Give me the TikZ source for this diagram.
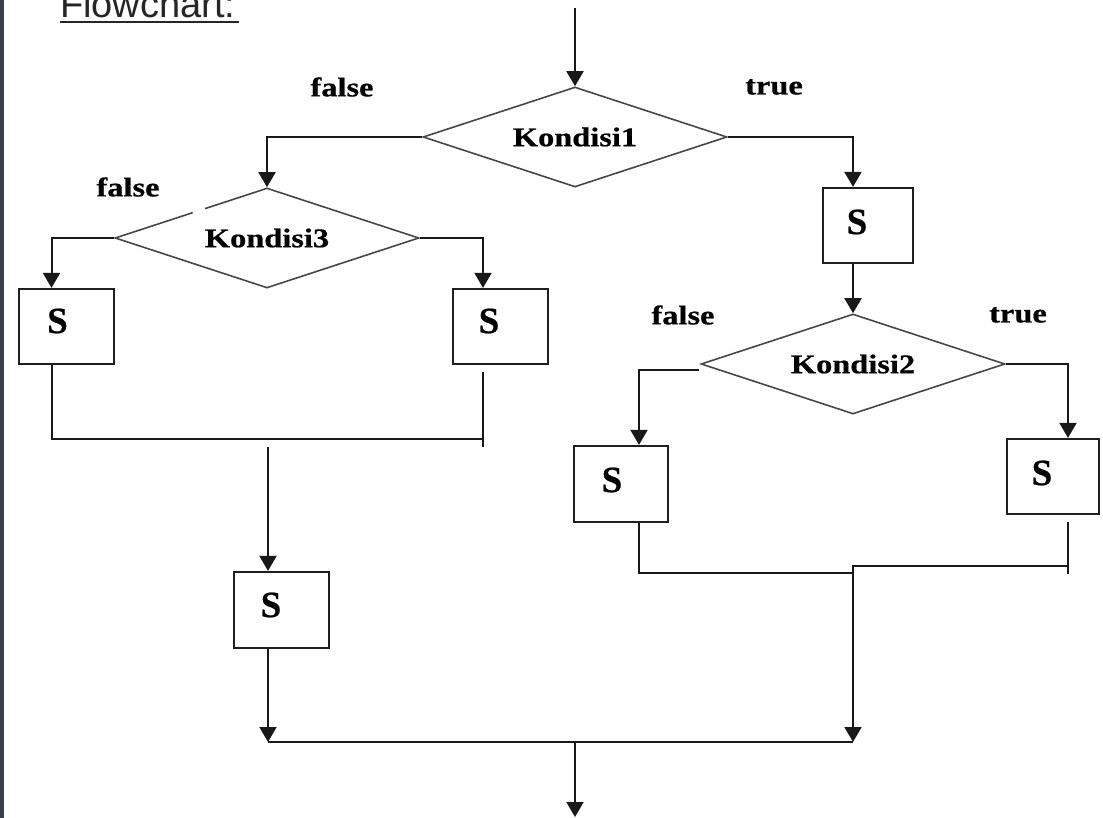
\documentclass[tikz,border=0pt]{standalone}
\usepackage{fontspec}
\usetikzlibrary{shapes.geometric,arrows.meta,calc}
\newfontfamily\lblfont[FakeStretch=1.2,FakeBold=0.6]{Liberation Serif}
\newfontfamily\sfontS[FakeBold=0.6]{Liberation Serif}
\newfontfamily\titlefont{Liberation Sans}
\definecolor{stripc}{RGB}{58,64,70}
\tikzset{
  dec/.style={diamond, draw=black!72, line width=1.6pt, minimum width=304pt, minimum height=100pt,
    inner sep=0pt, shape aspect=3, font=\lblfont\bfseries\fontsize{27}{27}\selectfont},
  sbox/.style={draw=black!88, line width=2.2pt, minimum width=95pt, minimum height=75pt, inner sep=0pt},
  stxt/.style={inner sep=0pt, font=\sfontS\bfseries\fontsize{37}{37}\selectfont},
  lbl/.style={inner sep=0pt, font=\lblfont\bfseries\fontsize{27}{27}\selectfont},
  conn/.style={line width=2pt, draw=black!90},
  arr/.style={conn, -{Triangle[width=17pt,length=15pt]}},
  ttl/.style={inner sep=0pt, anchor=base west, text=black!85, font=\titlefont\fontsize{38}{38}\selectfont},
}
\begin{document}
\begin{tikzpicture}[x=1pt,y=-1pt]
\useasboundingbox (0,0) rectangle (1103,818);
\clip (0,0) rectangle (1103,818);
\fill[white] (0,0) rectangle (1103,818);
\fill[stripc] (0,0) rectangle (3.5,818);

% title
\node[ttl] (title) at (60,18) {Flowchart:};
\draw[line width=2pt, black!85] ([yshift=-4pt]title.base west) -- ([shift={(3pt,-4pt)}]title.base east);

% decisions
\node[dec] (k1) at (575,137) {Kondisi1};
\node[dec] (k3) at (267,238) {Kondisi3};
\node[dec] (k2) at (853,364) {Kondisi2};
\draw[white, line width=4pt] (193,213.2) -- (205,209.2);

% boxes
\node[sbox] (bl1) at (66.5,326.5) {};
\node[sbox] (br1) at (500.5,326.5) {};
\node[sbox, minimum height=76pt] (bb) at (281.5,610) {};
\node[sbox, minimum width=90pt] (r1) at (868,225.5) {};
\node[sbox, minimum width=94pt, minimum height=76pt] (r2l) at (621,484) {};
\node[sbox, minimum width=92pt] (r2r) at (1053,476.5) {};

% box texts
\node[stxt] (bl1s) at (57.5,321) {S};
\node[stxt] (br1s) at (489,321) {S};
\node[stxt] (bbs) at (271,605) {S};
\node[stxt] (r1s) at (857,222) {S};
\node[stxt] (r2ls) at (612,480) {S};
\node[stxt] (r2rs) at (1042,473) {S};

% branch labels
\node[lbl] (f1) at (342,87) {false};
\node[lbl] (t1) at (774,87) {true};
\node[lbl] (f3) at (128,187) {false};
\node[lbl] (f2) at (683,315) {false};
\node[lbl] (t2) at (1018,315) {true};

% coordinates
\coordinate (start) at (575,8);
\coordinate (j1r) at (483,439);
\coordinate (t1a) at (483,372);
\coordinate (t1b) at (483,447);
\coordinate (m1) at (268,447);
\coordinate (bus1) at (268,742);
\coordinate (bus2) at (853,742);
\coordinate (busm) at (575,742);
\coordinate (end) at (575,817);
\coordinate (j2a) at (853,573);
\coordinate (j2b) at (853,566);
\coordinate (t2a) at (1068,522);
\coordinate (t2b) at (1068,574);

% connectors
\draw[arr] (start) -- (k1.north);
\draw[arr] (k1.west) -| (k3.north);
\draw[arr] (k1.east) -| ($(r1.north)+(-15,0)$);
\draw[arr] ($(r1.south)+(-15,0)$) -- (k2.north);
\draw[arr] ($(k2.west)+(-1,6)$) -| ($(r2l.north)+(18,0)$);
\draw[arr] (k2.east) -| ($(r2r.north)+(15,0)$);
\draw[arr] (k3.west) -| ($(bl1.north)+(-15,0)$);
\draw[arr] (k3.east) -| ($(br1.north)+(-17.5,0)$);

\draw[conn] ($(bl1.south)+(-15,0)$) |- (j1r);
\draw[conn] (t1a) -- (t1b);
\draw[arr] (m1) -- ($(bb.north)+(-13.5,0)$);
\draw[arr] ($(bb.south)+(-13.5,0)$) -- (bus1);

\draw[conn] ($(r2l.south)+(18,0)$) |- (j2a);
\draw[conn] (j2a) -- (j2b) -- (t2a |- j2b);
\draw[conn] (t2a) -- (t2b);
\draw[arr] (j2b) -- (bus2);

\draw[conn] (bus1) -- (bus2);
\draw[arr] (busm) -- (end);
\end{tikzpicture}
\end{document}
